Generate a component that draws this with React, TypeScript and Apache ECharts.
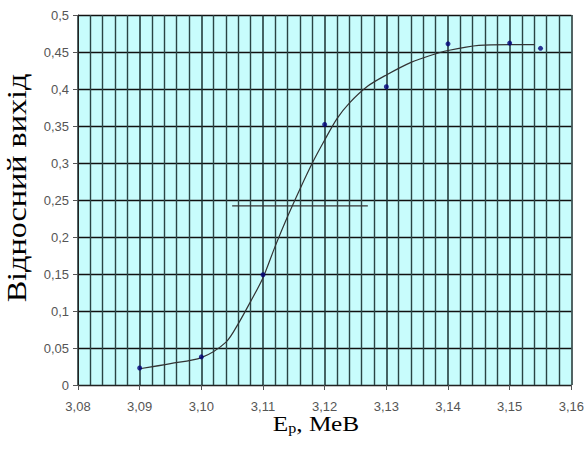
import React, { useEffect, useRef } from "react";
import * as echarts from "echarts";

const xTicksMin = 3.08;
const xTicksMax = 3.16;
const yMin = 0;
const yMax = 0.5;

const pointsX = [3.09, 3.1, 3.11, 3.12, 3.13, 3.14, 3.15, 3.155];
const pointsY = [0.023, 0.038, 0.149, 0.352, 0.403, 0.461, 0.462, 0.455];

const curveX = [3.09, 3.095, 3.1, 3.104, 3.106, 3.108, 3.11, 3.112, 3.114, 3.116, 3.118, 3.12, 3.122, 3.124, 3.127, 3.13, 3.134, 3.137, 3.14, 3.145, 3.15, 3.154];
const curveY = [0.022, 0.029, 0.037, 0.058, 0.083, 0.113, 0.145, 0.188, 0.228, 0.265, 0.3, 0.331, 0.36, 0.381, 0.404, 0.419, 0.436, 0.445, 0.452, 0.459, 0.46, 0.46];

const levelX = [3.105, 3.127];
const levelY = [0.242, 0.242];

const yTitle = "Відносний вихід";
const xTitleMain = "Е";
const xTitleSub = "р";
const xTitleRest = ", МеВ";

const fmt = (v: number, d: number) => {
  const s = d >= 0 ? v.toFixed(d) : String(parseFloat(v.toFixed(3)));
  return s.replace(".", ",");
};

export default function App() {
  const ref = useRef<HTMLDivElement>(null);
  useEffect(() => {
    if (!ref.current) return;
    const chart = echarts.init(ref.current, undefined, { renderer: "svg" });
    const zip = (xs: number[], ys: number[]) => xs.map((x, i) => [x, ys[i]]);
    chart.setOption({
      animation: false,
      grid: {
        left: 78,
        right: 14,
        top: 15,
        bottom: 66,
        show: true,
        backgroundColor: "#c8fcfc",
        borderWidth: 0,
      },
      xAxis: {
        type: "value",
        min: xTicksMin,
        max: xTicksMax,
        interval: 0.01,
        axisLine: { show: true, onZero: false, lineStyle: { color: "#222", width: 1 } },
        axisTick: { show: true, length: 5, lineStyle: { color: "#555" } },
        axisLabel: {
          formatter: (v: number) => fmt(v, 2),
          fontFamily: "Liberation Sans",
          fontSize: 13,
          color: "#555",
          margin: 15,
        },
        splitLine: { show: true, lineStyle: { color: "#1a3030", width: 1.5 } },
        minorTick: { show: false, splitNumber: 5 },
        minorSplitLine: { show: true, lineStyle: { color: "#2a4444", width: 1.4 } },
      },
      yAxis: {
        type: "value",
        min: yMin,
        max: yMax,
        interval: 0.05,
        axisLine: { show: true, lineStyle: { color: "#222", width: 1 } },
        axisTick: { show: true, length: 5, lineStyle: { color: "#555" } },
        axisLabel: {
          formatter: (v: number) => fmt(v, -1),
          fontFamily: "Liberation Sans",
          fontSize: 13,
          color: "#555",
          margin: 9,
        },
        splitLine: { show: true, lineStyle: { color: "#111", width: 1.4 } },
      },
      graphic: [
        {
          type: "text",
          x: 17,
          y: 188,
          rotation: Math.PI / 2,
          scaleX: 1.15,
          style: {
            text: yTitle,
            fontFamily: "Liberation Serif",
            fontWeight: "normal",
            fontSize: 28,
            fill: "#000",
            align: "center",
            verticalAlign: "middle",
          },
        },
        {
          type: "text",
          x: 316,
          y: 424,
          scaleX: 1.15,
          style: {
            text: `{m|${xTitleMain}}{s|${xTitleSub}}{m|${xTitleRest}}`,
            align: "center",
            verticalAlign: "middle",
            fontWeight: "normal",
            rich: {
              m: { fontFamily: "Liberation Serif", fontWeight: "normal", fontSize: 22, fill: "#000", color: "#000" },
              s: { fontFamily: "Liberation Serif", fontWeight: "normal", fontSize: 14, fill: "#000", color: "#000", padding: [9, 0, 0, 0] },
            },
          },
        },
      ],
      series: [
        {
          type: "line",
          data: zip(curveX, curveY),
          smooth: 0.3,
          showSymbol: false,
          symbol: "none",
          lineStyle: { color: "#333", width: 1.2 },
          z: 3,
        },
        {
          type: "line",
          data: zip(levelX, levelY),
          showSymbol: false,
          symbol: "none",
          lineStyle: { color: "#333", width: 1.2 },
          z: 3,
        },
        {
          type: "scatter",
          data: zip(pointsX, pointsY),
          symbol: "circle",
          symbolSize: 5,
          itemStyle: { color: "#00007a" },
          z: 4,
        },
      ],
    });
    return () => chart.dispose();
  }, []);
  return <div ref={ref} style={{ width: 587, height: 451, position: "absolute", left: 0, top: 0 }} />;
}
